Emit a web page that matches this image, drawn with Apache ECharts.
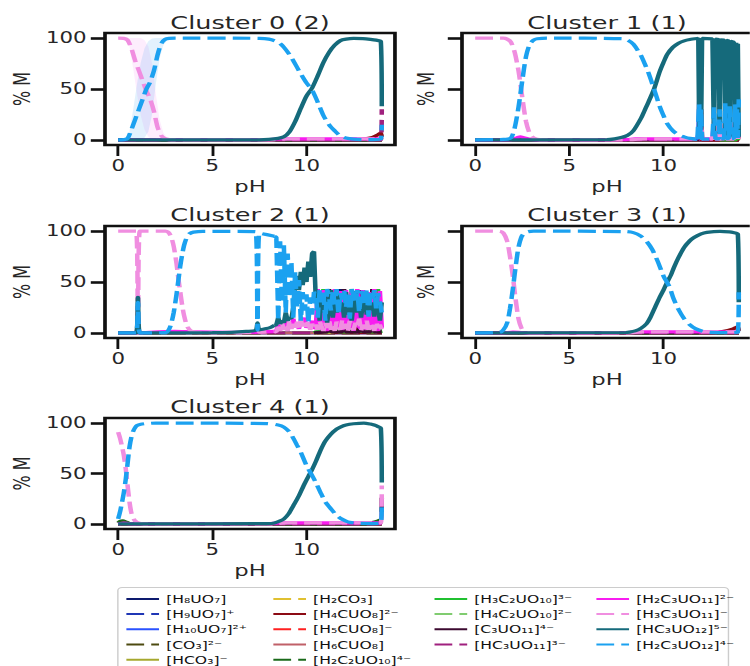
<!DOCTYPE html>
<html><head><meta charset="utf-8">
<script src="https://cdn.jsdelivr.net/npm/echarts@6/dist/echarts.min.js"></script>
<style>
html,body{margin:0;padding:0;background:#fff;overflow:hidden}
#wrap{width:750px;height:666px;overflow:hidden}
#c{width:528.17px;height:666px;transform:scaleX(1.42);transform-origin:0 0}
</style>
</head><body><div id="wrap"><div id="c"></div></div><script>
// ---------------- data ----------------
const SPECIES = ['[H₈UO₇]','[H₉UO₇]⁺','[H₁₀UO₇]²⁺','[CO₃]²⁻','[HCO₃]⁻','[H₂CO₃]','[H₄CUO₈]²⁻','[H₅CUO₈]⁻','[H₆CUO₈]','[H₂C₂UO₁₀]⁴⁻','[H₃C₂UO₁₀]³⁻','[H₄C₂UO₁₀]²⁻','[C₃UO₁₁]⁴⁻','[HC₃UO₁₁]³⁻','[H₂C₃UO₁₁]²⁻','[H₃C₃UO₁₁]⁻','[HC₃UO₁₂]⁵⁻','[H₂C₃UO₁₂]⁴⁻'];
const TITLES = ['Cluster 0 (2)','Cluster 1 (1)','Cluster 2 (1)','Cluster 3 (1)','Cluster 4 (1)'];
const X_TICKS = [0,5,10];
const Y_TICKS = [0,50,100];
const ZERO_LINE = [[0,0],[14,0]];

// Cluster 0
const c0_H2C3UO12 = [[0,0],[0.3,0.3],[0.5,1.5],[0.7,10],[0.9,20],[1.1,30],[1.3,40],[1.5,50],[1.7,57],[1.9,68],[2.1,84],[2.3,95],[2.5,98.8],[2.7,99.7],[3,100],[7.5,99.8],[8,99],[8.5,96],[8.8,91],[9.2,81],[9.6,68],[10,56],[10.3,49],[10.6,37],[10.9,24],[11.2,15],[11.5,9],[11.8,4],[12.1,1.8],[12.5,0.7],[13,0.3],[13.5,0.3],[13.95,0.8],[14,15]];
const c0_HC3UO12 = [[0,0],[7.5,0.1],[8,0.5],[8.5,1.5],[8.8,3],[9.1,8],[9.4,18],[9.7,31],[10,43],[10.3,51],[10.6,63],[10.9,76],[11.2,86],[11.5,93],[11.8,97.5],[12.1,99],[12.5,99.7],[13,99.5],[13.4,98.8],[13.7,98],[13.95,96.7],[14,33]];
const c0_H3C3UO11 = [[0,100],[0.3,99.7],[0.5,98],[0.7,90],[0.9,78],[1.1,68],[1.3,58],[1.5,48],[1.7,40],[1.9,28],[2.1,12],[2.3,4],[2.5,1.2],[2.7,0.3],[3,0],[8,0],[8.5,0.6],[9,1],[14,1]];
const c0_H2C3UO11 = [[0,0],[2,0.3],[2.5,0.5],[3,0.2],[8,0.3],[8.5,1],[14,1]];
const c0_H4CUO8 = [[0,0],[12.5,0],[13,0.8],[13.5,2.5],[13.8,5],[13.95,7],[14,3]];
const c0_HC3UO11 = [[0,0],[13.95,0],[14,30]];
const c0_bandPH = [0.2,0.4,0.6,0.8,1.0,1.2,1.4,1.6,1.8,2.0,2.2,2.4,2.6,2.8];
const c0_blueHi = [0,1,8,30,55,76,90,97,99.5,100,100,100,100,100];
const c0_blueLo = [0,0,0,0,0,0,2,8,25,55,80,93,98,100];
const c0_violetHi = [100,100,100,100,100,100,98,92,75,45,20,7,2,0];
const c0_violetLo = [100,99,92,70,45,24,10,3,0.5,0,0,0,0,0];

// Cluster 1 (smooth part, then the spiky part above pH 11.8)
const c1_HC3UO12 = [[0,0],[7,0.2],[7.4,1],[7.8,2.5],[8.1,4.5],[8.4,9],[8.8,21],[9.0,29],[9.2,37],[9.5,50],[9.8,67],[10.0,76],[10.2,84],[10.5,91],[10.8,95],[11.1,97.3],[11.4,98.6],[11.8,99.6]];
const c1_H2C3UO12 = [[0,0],[1.5,0.5],[1.9,2],[2.1,12],[2.3,32],[2.5,58],[2.7,82],[2.9,94],[3.1,98],[3.3,99.3],[3.8,100],[7.8,99.5],[8.1,98],[8.4,94],[8.8,83],[9.0,75],[9.2,66],[9.5,50],[9.8,33],[10.0,24],[10.2,16],[10.5,9],[10.8,5],[11.1,3],[11.4,1.5],[11.8,0.5]];
const c1_H3C3UO11 = [[0,100],[1.5,100],[1.7,99],[1.9,96],[2.1,86],[2.3,68],[2.5,42],[2.7,18],[2.9,6],[3.1,2],[3.3,0.5],[3.6,0],[8,0],[8.5,0.5],[9,1],[11.8,1]];
const c1_H2C3UO11 = [[0,0],[1.8,0],[2.2,2],[2.4,3],[2.6,2],[3,0.5],[3.5,0],[8,0.3],[8.5,1],[11.8,1]];
const c1_spikePH = [11.85,11.9,11.95,12.0,12.05,12.6,12.68,12.76,12.94,12.98,13.02,13.22,13.28,13.34,13.48,13.52,13.56,13.74,13.8,13.86,13.9,13.95,14.0];
const c1_tealSpike = [100,4,99.8,10,99.7,99.2,5,99,98.6,6,98.4,98,4,97.8,97.2,3,97,96,5,95.5,6,94.5,3];
const c1_blueSpike = [0.5,35,0.6,30,0.7,0.8,32,1,1,30,1.2,1.2,36,1.3,1.4,33,1.5,1.6,35,1.7,30,1.8,40];
const c1_violetSpike = [1,10,1,15,1,1,18,1,1,22,1,1,14,1,1,16,1,1,12,1,24,1,15];
const c1_magentaSpike = [1,8,1,12,1,1,15,1,1,10,1,1,18,1,1,14,1,1,18,1,10,1,8];
const c1_H10UO7 = [[11.85,0],[11.9,38],[11.95,0]];
const c1_H4CUO8 = [[11.95,0],[12.0,30],[12.05,0],[13.95,0],[14,5]];
const c1_H5CUO8 = [[12.94,0],[12.98,35],[13.02,0]];
const c1_H3C2UO10 = [[12.94,0],[12.98,28],[13.02,0],[13.86,0],[13.9,38],[13.95,0]];

// Cluster 2 (smooth part, then the scattered part above pH 8.3)
const c2_H3C3UO11 = [[0,100],[0.95,100],[1.05,0],[1.15,100],[2.5,100],[2.65,99],[2.8,95],[2.95,85],[3.1,68],[3.2,53],[3.3,40],[3.4,27],[3.5,17],[3.65,7],[3.8,3],[4,1],[4.5,0.3],[7.3,0.5],[7.4,5],[7.5,0.8],[8.3,1.5]];
const c2_H2C3UO12 = [[0,0],[0.95,0],[1.05,30],[1.15,0],[2.5,0.3],[2.65,2],[2.8,8],[2.95,20],[3.1,38],[3.2,52],[3.3,66],[3.4,77],[3.5,86],[3.65,94],[3.8,97.5],[4,99],[4.5,99.8],[7.3,99.5],[7.4,3],[7.5,98],[8.3,95]];
const c2_HC3UO12 = [[0,0],[0.95,0],[1.05,35],[1.15,0],[5,0.2],[6,0.6],[6.8,1.5],[7.3,2.5],[7.4,10],[7.5,3],[7.8,4],[8.1,5.5],[8.3,7.5]];
const c2_H2C3UO11 = [[0,0],[0.95,0],[1.05,15],[1.15,0],[3,1.5],[4,1],[7,0.5],[8.3,1.5]];
const c2_messPH = [8.4,8.5,8.6,8.7,8.8,8.9,9.0,9.1,9.2,9.3,9.4,9.5,9.6,9.7,9.8,9.9,10.0,10.1,10.2,10.3,10.4,10.5,10.6,10.7,10.8,10.9,11.0,11.1,11.2,11.3,11.4,11.5,11.6,11.7,11.8,11.9,12.0,12.1,12.2,12.3,12.4,12.5,12.6,12.7,12.8,12.9,13.0,13.1,13.2,13.3,13.4,13.5,13.6,13.7,13.8,13.9,14.0];
const c2_blueMess = [94,12,90,30,86,20,78,35,70,15,60,25,52,12,40,22,38,10,35,18,40,38,15,42,30,40,12,43,35,22,41,28,43,18,39,33,42,25,40,14,43,36,30,42,20,41,38,27,43,16,40,34,42,24,39,30,20];
const c2_tealMess = [8,15,9,12,10,20,12,15,14,25,48,56,42,60,47,64,50,70,55,78,80,30,40,12,35,20,38,10,25,42,15,33,20,38,22,30,15,40,18,36,12,28,41,20,35,15,30,40,18,38,22,30,16,36,25,12,30];
const c2_magentaMess = [2,8,3,10,4,12,3,9,5,14,6,10,4,12,8,15,5,10,6,12,5,5,43,10,3,42,8,2,40,6,12,43,4,8,41,3,10,42,5,7,40,2,12,43,6,4,42,8,3,40,10,5,43,7,2,41,5];
const c2_violetMess = [1,6,2,10,3,8,2,12,4,9,3,11,5,14,4,10,6,12,3,9,5,8,3,12,6,2,10,5,14,3,8,2,11,6,3,13,4,9,2,12,5,3,10,6,14,2,8,4,12,3,9,6,2,11,5,8,3];
const c2_H3C2UO10 = [[10.4,0],[10.5,1],[10.8,2],[10.9,43],[11.0,1],[11.5,2],[11.6,42],[11.7,1],[12.3,1],[12.4,43],[12.5,1],[13.0,2],[13.1,41],[13.2,1],[13.7,1],[13.8,43],[13.9,1],[14,2]];
const c2_C3UO11 = [[10.4,0],[11.1,1],[11.2,43],[11.3,1],[11.9,1],[12.0,43],[12.1,1],[12.8,1],[12.9,42],[13.0,1],[13.4,1],[13.5,43],[13.6,1],[14,1]];
const c2_H2CO3 = [[10.4,0],[11,1.5],[11.5,0.5],[12,2.5],[12.3,1],[12.7,3],[13,1.5],[13.3,3.5],[13.6,2],[14,3]];
const c2_HCO3 = [[10.4,0],[11.3,1],[12,0.5],[12.5,2],[13,1],[13.5,2.5],[14,1.5]];
const c2_H4CUO8 = [[11.3,0],[11.4,5],[11.5,0.5],[12.6,0.5],[12.7,6],[12.8,0.5],[13.6,0.5],[13.7,5],[13.8,0.5],[14,0.5]];
const c2_H8UO7 = [[11.7,0],[11.8,43],[11.9,0]];

// Cluster 3
const c3_H3C3UO11 = [[0,100],[1.3,99.7],[1.5,98],[1.7,90],[1.85,75],[2.0,56],[2.1,40],[2.2,26],[2.3,14],[2.45,5],[2.6,1.5],[2.8,0.3],[3,0],[8,0],[8.5,0.5],[9,1],[14,1]];
const c3_H2C3UO12 = [[0,0],[1.3,0.5],[1.5,3],[1.7,10],[1.85,24],[2.0,43],[2.1,58],[2.2,72],[2.3,84],[2.45,94],[2.6,97.8],[2.8,99.4],[3.1,100],[8,99.5],[8.4,98.5],[8.8,95],[9.1,90],[9.4,82],[9.7,70],[10.0,56],[10.3,46],[10.55,33],[10.8,23],[11.1,14],[11.4,8],[11.7,4.2],[12.1,1.5],[12.5,0.5],[13.5,0.3],[13.95,0.8],[14.0,40]];
const c3_HC3UO12 = [[0,0],[8,0.4],[8.2,0.8],[8.5,2],[8.8,4.5],[9.1,9],[9.3,15],[9.55,25],[9.8,35],[10.0,42],[10.2,50],[10.4,57],[10.55,64],[10.8,74],[11.1,84],[11.4,90.5],[11.6,93.5],[12.0,97.3],[12.3,98.8],[13.0,99.8],[13.5,99.3],[13.7,98.7],[13.95,97],[14.0,30]];
const c3_H2C3UO11 = [[0,0],[1.5,0],[2,0.8],[2.5,0.3],[3,0],[8,0.3],[8.5,1],[14,1]];
const c3_H4CUO8 = [[0,0],[12.5,0],[13.2,1.5],[13.7,4],[13.95,6],[14,2]];

// Cluster 4
const c4_H3C3UO11 = [[0,91],[0.1,85],[0.2,77],[0.3,68],[0.4,55],[0.5,38],[0.6,22],[0.7,11],[0.8,6],[0.9,3],[1.0,1.5],[1.2,0.5],[1.5,0],[8,0],[8.5,0.6],[9,1],[13.95,1],[14,38]];
const c4_H2C3UO12 = [[0,5],[0.1,12],[0.2,21],[0.3,31],[0.4,44],[0.5,60],[0.6,76],[0.7,86],[0.8,92],[0.9,95.5],[1.0,97.5],[1.2,98.8],[1.5,99.5],[2,100],[7.9,99.5],[8.5,98],[8.8,96],[9.1,91],[9.3,85],[9.5,78],[9.7,71],[10.0,58],[10.3,48],[10.5,41],[10.75,31],[11.0,22],[11.3,15],[11.6,8.5],[11.8,5.6],[12.1,2.8],[12.3,1.6],[12.7,0.6],[13.5,0.4],[13.95,1],[14,20]];
const c4_HC3UO12 = [[0,0],[8,0.3],[8.3,1],[8.6,3],[8.8,5],[9.05,10],[9.3,18],[9.6,28],[9.85,38],[10.1,47],[10.3,54],[10.5,62],[10.75,73],[11.0,82],[11.3,89],[11.6,94],[11.8,96],[12.1,98],[12.5,99.3],[13.05,100],[13.4,99],[13.6,98],[13.8,96.5],[13.95,95],[14,41]];
const c4_H2C2UO10 = [[0,1],[0.1,2.5],[0.25,3],[0.4,2],[0.6,0.5],[1,0],[13,0],[13.5,1.5],[13.8,3],[13.95,4],[14,2]];
const c4_C3UO11 = [[0,0],[13.95,0],[14,26]];
const c4_H2C3UO11 = [[0,0],[0.3,0.8],[0.6,0.3],[1,0],[8,0.3],[8.5,1],[14,1]];

// ---------------- styling ----------------
const COLORS = ['#0d1a6e','#1f36b5','#2a52ff','#4d4a10','#a6a82e','#e0c030','#8c0a14','#ff2020','#c06068','#1a6a1a','#20c030','#80cc70','#3c0a30','#a0207e','#f81cf0','#f08ee0','#156a7b','#1ba1f0'];
const DASHED = SPECIES.map((_, i) => i % 2 === 1);
const DASH = [12.5, 5];
const FONT = 'DejaVu Sans';
const TXT = '#262626';
const GRIDS = [[73.94,33,204.2,112],[325.35,33,204.2,112],[73.94,226,204.2,112],[325.35,226,204.2,112],[73.94,418,204.2,111]];
const TITLE_Y = [22,214,406];
const Y_LABELS = [true,false,true,false,true];

const zip = (xs, ys) => xs.map((x, i) => [x, ys[i]]);
// smooth part of each species per cluster
const SMOOTH_TABLE = [
  {6:c0_H4CUO8, 13:c0_HC3UO11, 14:c0_H2C3UO11, 15:c0_H3C3UO11, 16:c0_HC3UO12, 17:c0_H2C3UO12},
  {14:c1_H2C3UO11, 15:c1_H3C3UO11, 16:c1_HC3UO12, 17:c1_H2C3UO12},
  {14:c2_H2C3UO11, 15:c2_H3C3UO11, 16:c2_HC3UO12, 17:c2_H2C3UO12},
  {6:c3_H4CUO8, 14:c3_H2C3UO11, 15:c3_H3C3UO11, 16:c3_HC3UO12, 17:c3_H2C3UO12},
  {9:c4_H2C2UO10, 12:c4_C3UO11, 14:c4_H2C3UO11, 15:c4_H3C3UO11, 16:c4_HC3UO12, 17:c4_H2C3UO12}
];
// jagged (failed-solver) parts, drawn as straight segments
const JAGGED_TABLE = [
  {},
  {2:c1_H10UO7, 6:c1_H4CUO8, 7:c1_H5CUO8, 10:c1_H3C2UO10,
   14:[c1_H2C3UO11.at(-1)].concat(zip(c1_spikePH, c1_magentaSpike)),
   15:[c1_H3C3UO11.at(-1)].concat(zip(c1_spikePH, c1_violetSpike)),
   16:[c1_HC3UO12.at(-1)].concat(zip(c1_spikePH, c1_tealSpike)),
   17:[c1_H2C3UO12.at(-1)].concat(zip(c1_spikePH, c1_blueSpike))},
  {0:c2_H8UO7, 4:c2_HCO3, 5:c2_H2CO3, 6:c2_H4CUO8, 10:c2_H3C2UO10, 12:c2_C3UO11,
   14:[c2_H2C3UO11.at(-1)].concat(zip(c2_messPH, c2_magentaMess)),
   15:[c2_H3C3UO11.at(-1)].concat(zip(c2_messPH, c2_violetMess)),
   16:[c2_HC3UO12.at(-1)].concat(zip(c2_messPH, c2_tealMess)),
   17:[c2_H2C3UO12.at(-1)].concat(zip(c2_messPH, c2_blueMess))},
  {}, {}
];

const grid = [], xAxis = [], yAxis = [], series = [], graphic = [];
GRIDS.forEach((g, i) => {
  grid.push({left:g[0], top:g[1], width:g[2], height:g[3], show:true, borderColor:'#111', borderWidth:2.6,
    backgroundColor:'rgba(0,0,0,0)', containLabel:false, outerBoundsMode:'none'});
  xAxis.push({type:'value', gridIndex:i, min:-0.7, max:14.7, name:'pH', nameLocation:'middle', nameGap:34,
    nameMoveOverlap:false,
    nameTextStyle:{fontSize:16, color:TXT, fontFamily:FONT},
    axisLine:{show:false, onZero:false}, splitLine:{show:false},
    axisTick:{show:true, customValues:X_TICKS, length:11, lineStyle:{color:'#111', width:2}},
    axisLabel:{customValues:X_TICKS, fontSize:15, color:TXT, fontFamily:FONT, margin:13}});
  yAxis.push({type:'value', gridIndex:i, min:-5, max:105, name:'% M', nameLocation:'middle',
    nameGap: Y_LABELS[i] ? 50 : 17, nameMoveOverlap:false,
    nameTextStyle:{fontSize:16, color:TXT, fontFamily:FONT},
    axisLine:{show:false, onZero:false}, splitLine:{show:false},
    axisTick:{show:true, customValues:Y_TICKS, length:10, lineStyle:{color:'#111', width:2.6}},
    axisLabel:{show:Y_LABELS[i], customValues:Y_TICKS, fontSize:15, color:TXT, fontFamily:FONT, margin:13}});
  graphic.push({type:'text', x:g[0] + g[2] / 2, y:TITLE_Y[Math.floor(i / 2)], silent:true,
    style:{text:TITLES[i], align:'center', verticalAlign:'middle', font:'18px "DejaVu Sans"', fill:TXT}});
});

// std bands of cluster 0 (mean ± std of its 2 members), drawn as polygons through the axis scales
function band(lo, hi, color) {
  series.push({type:'custom', xAxisIndex:0, yAxisIndex:0, data:[[0,0]], silent:true, z:1, clip:true,
    renderItem: (params, api) => {
      const top = c0_bandPH.map((x, k) => api.coord([x, hi[k]]));
      const bot = c0_bandPH.map((x, k) => api.coord([x, lo[k]])).reverse();
      return {type:'polygon', shape:{points: top.concat(bot)}, style:{fill: color}};
    }});
}
band(c0_violetLo, c0_violetHi, 'rgba(238,130,238,0.14)');
band(c0_blueLo, c0_blueHi, 'rgba(30,144,240,0.13)');

function lineSeries(name, s, g, data, smooth) {
  return {type:'line', name, xAxisIndex:g, yAxisIndex:g, data, symbol:'none', smooth, silent:true, z:2,
    lineStyle:{color:COLORS[s], width:3.2, type: DASHED[s] ? DASH : 'solid'},
    itemStyle:{color:COLORS[s]}};
}
GRIDS.forEach((_, g) => {
  SPECIES.forEach((name, s) => {
    const sm = SMOOTH_TABLE[g][s], jg = JAGGED_TABLE[g][s];
    if (sm || !jg) series.push(lineSeries(name, s, g, sm || ZERO_LINE, 0.25));
  });
  SPECIES.forEach((name, s) => {
    const jg = JAGGED_TABLE[g][s];
    if (jg) series.push(lineSeries(name, s, g, jg, false));
  });
});

const LEG_COLS = [[0,1,2,3,4],[5,6,7,8,9],[10,11,12,13],[14,15,16,17]];
const LEG_LEFT = [88,191.5,305,419];
const legend = LEG_COLS.map((col, k) => ({
  data: col.map(i => SPECIES[i]), orient:'vertical', left:LEG_LEFT[k], top:593.4, height:80, padding:0,
  itemWidth:23, itemHeight:9, itemGap:4.2, selectedMode:false,
  itemStyle:{opacity:0},
  textStyle:{fontSize:11, color:'#111', fontFamily:FONT}
}));
graphic.unshift({type:'rect', z:-10, silent:true, shape:{x:83, y:587.5, width:430, height:92, r:3},
  style:{fill:'#fff', stroke:'#cccccc', lineWidth:1}});

const chart = echarts.init(document.getElementById('c'), null, {renderer:'svg'});
chart.setOption({animation:false, backgroundColor:'#fff', textStyle:{fontFamily:FONT},
  grid, xAxis, yAxis, series, legend, graphic});
</script></body></html>
